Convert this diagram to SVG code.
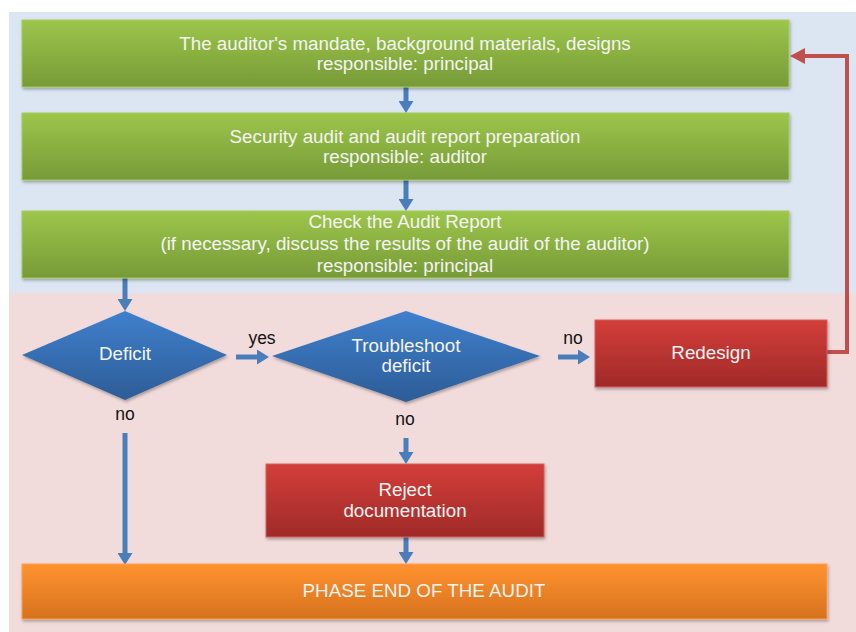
<svg xmlns="http://www.w3.org/2000/svg" width="856" height="632" viewBox="0 0 856 632">
<defs>
<linearGradient id="gGreen" x1="0" y1="0" x2="0" y2="1"><stop offset="0" stop-color="#9DC64A"/><stop offset="1" stop-color="#779A38"/></linearGradient>
<linearGradient id="gRed" x1="0" y1="0" x2="0" y2="1"><stop offset="0" stop-color="#D33E3A"/><stop offset="1" stop-color="#A02A28"/></linearGradient>
<linearGradient id="gOrange" x1="0" y1="0" x2="0" y2="1"><stop offset="0" stop-color="#FF932F"/><stop offset="1" stop-color="#D6721E"/></linearGradient>
<linearGradient id="gBlue" x1="0" y1="0" x2="0" y2="1"><stop offset="0" stop-color="#3F80CD"/><stop offset="1" stop-color="#2D5C96"/></linearGradient>
<filter id="sh" x="-5%" y="-10%" width="110%" height="130%"><feDropShadow dx="1" dy="2" stdDeviation="1.5" flood-color="#000" flood-opacity="0.3"/></filter>
<marker id="ab" viewBox="0 0 12 15" markerUnits="userSpaceOnUse" markerWidth="12" markerHeight="15" refX="4" refY="7.5" orient="auto"><path d="M0,0 L12,7.5 L0,15 z" fill="#4A7EBB"/></marker>
<marker id="ar" viewBox="0 0 15 16" markerUnits="userSpaceOnUse" markerWidth="15" markerHeight="16" refX="6" refY="8" orient="auto"><path d="M0,0 L15,8 L0,16 z" fill="#C0504D"/></marker>
</defs>
<style>
.t{font-family:"Liberation Sans",Arial,sans-serif;font-size:18.8px;fill:#F4F4F4;text-anchor:middle}
.l{font-family:"Liberation Sans",Arial,sans-serif;font-size:17.5px;fill:#111;text-anchor:middle}
.ba{stroke:#4A7EBB;stroke-width:5;fill:none;marker-end:url(#ab)}
.ra{stroke:#C0504D;stroke-width:4;fill:none;stroke-linejoin:miter;marker-end:url(#ar)}
</style>
<rect x="9" y="12" width="847" height="281" fill="#DCE6F2"/>
<rect x="9" y="293" width="847" height="339" fill="#F2DCDB"/>
<g id="connectors">
<line class="ba" x1="406" y1="87" x2="406" y2="105"/>
<line class="ba" x1="406" y1="180" x2="406" y2="203"/>
<line class="ba" x1="125" y1="278" x2="125" y2="303"/>
<line class="ba" x1="236" y1="357" x2="261" y2="357"/>
<line class="ba" x1="558" y1="357" x2="582" y2="357"/>
<line class="ba" x1="125" y1="433" x2="125" y2="557"/>
<line class="ba" x1="406" y1="438" x2="406" y2="456"/>
<line class="ba" x1="406" y1="537" x2="406" y2="556"/>
<polyline class="ra" points="827,352 847,352 847,56 799,56"/>
<text class="l" x="262" y="344">yes</text>
<text class="l" x="573" y="344">no</text>
<text class="l" x="125" y="420">no</text>
<text class="l" x="405" y="425">no</text>
</g>
<g id="n1">
<rect x="22" y="20" width="767" height="67" fill="url(#gGreen)" stroke="#A6CB5E" stroke-width="1" filter="url(#sh)"/>
<text class="t" x="405" y="50">The auditor's mandate, background materials, designs</text>
<text class="t" x="405" y="70">responsible: principal</text>
</g>
<g id="n2">
<rect x="22" y="113" width="767" height="67" fill="url(#gGreen)" stroke="#A6CB5E" stroke-width="1" filter="url(#sh)"/>
<text class="t" x="405" y="143">Security audit and audit report preparation</text>
<text class="t" x="405" y="163">responsible: auditor</text>
</g>
<g id="n3">
<rect x="22" y="211" width="767" height="67" fill="url(#gGreen)" stroke="#A6CB5E" stroke-width="1" filter="url(#sh)"/>
<text class="t" x="405" y="228">Check the Audit Report</text>
<text class="t" x="405" y="250">(if necessary, discuss the results of the audit of the auditor)</text>
<text class="t" x="405" y="272">responsible: principal</text>
</g>
<g id="deficit">
<polygon points="22,355 125,311 227,355 125,400" fill="url(#gBlue)" filter="url(#sh)"/>
<text class="t" x="125" y="360">Deficit</text>
</g>
<g id="troubleshoot">
<polygon points="272,356 406,311 540,356 406,402" fill="url(#gBlue)" filter="url(#sh)"/>
<text class="t" x="406" y="352">Troubleshoot</text>
<text class="t" x="406" y="372">deficit</text>
</g>
<g id="redesign">
<rect x="595" y="320" width="232" height="67" fill="url(#gRed)" stroke="#D5605C" stroke-width="1" filter="url(#sh)"/>
<text class="t" x="711" y="359">Redesign</text>
</g>
<g id="reject">
<rect x="266" y="464" width="278" height="73" fill="url(#gRed)" stroke="#D5605C" stroke-width="1" filter="url(#sh)"/>
<text class="t" x="405" y="496">Reject</text>
<text class="t" x="405" y="517">documentation</text>
</g>
<g id="end">
<rect x="22" y="564" width="805" height="55" fill="url(#gOrange)" stroke="#FBA052" stroke-width="1" filter="url(#sh)"/>
<text class="t" x="424" y="597">PHASE END OF THE AUDIT</text>
</g>
</svg>
